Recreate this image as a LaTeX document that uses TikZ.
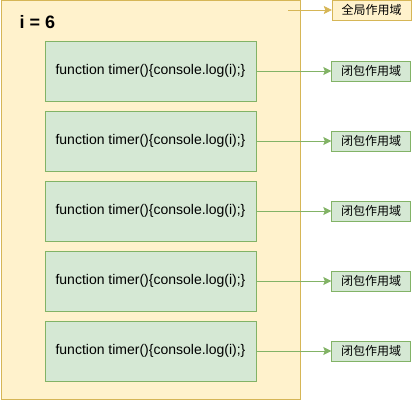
\documentclass[tikz,border=0pt]{standalone}
\usepackage{fontspec}
\setmainfont{Liberation Sans}
\newfontfamily\cjk{Noto Sans CJK SC}
\usetikzlibrary{arrows.meta}

\definecolor{globalfill}{HTML}{FFF2CC}
\definecolor{globalline}{HTML}{D6B656}
\definecolor{closurefill}{HTML}{D5E8D4}
\definecolor{closureline}{HTML}{82B366}

\begin{document}
\begin{tikzpicture}[x=1pt, y=-1pt,
    fnbox/.style={draw=closureline, fill=closurefill, minimum width=211pt, minimum height=60pt, inner sep=0pt, font=\fontsize{14}{16}\selectfont},
    scopelabel/.style={draw=#1line, fill=#1fill, minimum width=79pt, minimum height=20pt, inner sep=0pt, font=\cjk\fontsize{12}{14}\selectfont},
    scopearrow/.style={#1line, line width=0.9pt, -{Stealth[length=8pt, width=8pt, inset=1.5pt]}}]
    \useasboundingbox (0, 0) rectangle (412, 401);

    % global scope
    \node[draw=globalline, fill=globalfill, minimum width=299pt, minimum height=399pt, inner sep=0pt] (global) at (150.5, 199.5) {};
    \node[font=\bfseries\fontsize{18}{20}\selectfont, anchor=west] (ivar) at (16, 22) {i = 6};

    % label of the global scope
    \node[scopelabel=global] (glabel) at (371.5, 10) {全局作用域};
    \coordinate (gstart) at (288, 10);
    \draw[scopearrow=global] (gstart) -- (glabel);

    % the five timers and their closures
    \foreach \k in {1,...,5} {
        \node[fnbox] (fn\k) at (150.5, 1 + 70*\k) {function timer()\{console.log(i);\}};
        \node[scopelabel=closure] (lbl\k) at (371, 1 + 70*\k) {闭包作用域};
        \draw[scopearrow=closure] (fn\k) -- (lbl\k);
    }
\end{tikzpicture}
\end{document}
